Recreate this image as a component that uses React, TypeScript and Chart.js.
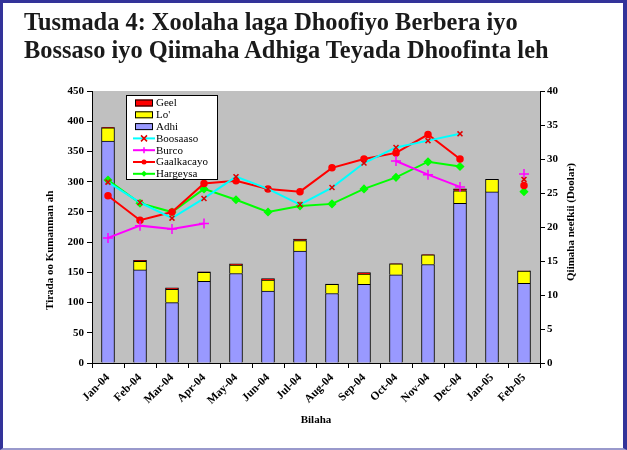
import React, { useEffect, useRef } from 'react';
import { Chart, registerables } from 'chart.js';

Chart.register(...registerables);

const months = ['Jan-04', 'Feb-04', 'Mar-04', 'Apr-04', 'May-04', 'Jun-04', 'Jul-04', 'Aug-04', 'Sep-04', 'Oct-04', 'Nov-04', 'Dec-04', 'Jan-05', 'Feb-05'];

// Thousands of head exported (left axis)
const adhi = [367, 154, 100, 135, 148, 119, 185, 115, 130, 146, 163, 264, 283, 132];
const lo = [22, 14, 22, 15, 14, 18, 17.5, 15, 17, 18, 16, 21, 21, 20];
const geel = [1, 2, 2.5, 1, 2, 2.5, 2.5, 0.5, 2.5, 0.5, 0.5, 3, 0, 0.5];

// Price of a goat (US dollars, right axis)
const boosaaso = [26.6, 23.6, 21.3, 24.2, 27.4, 25.6, 23.3, 25.8, 29.4, 31.7, 32.7, 33.7, null, 27.0];
const burco = [18.4, 20.2, 19.7, 20.5, null, null, null, null, null, 29.7, 27.7, 25.9, null, 27.8];
const gaalkacayo = [24.6, 21.0, 22.2, 26.4, 26.8, 25.6, 25.2, 28.7, 30.0, 30.9, 33.6, 30.0, null, 26.1];
const hargeysa = [26.9, 23.5, 22.2, 25.6, 24.0, 22.2, 23.1, 23.4, 25.6, 27.3, 29.6, 28.9, null, 25.2];

const leftMax = 450;
const leftStep = 50;
const rightMax = 40;
const rightStep = 5;

const titleLines = ['Tusmada 4: Xoolaha laga Dhoofiyo Berbera iyo', 'Bossaso iyo Qiimaha Adhiga Teyada Dhoofinta leh'];
const leftTitle = 'Tirada oo Kumanman ah';
const rightTitle = 'Qiimaha neefkii (Doolar)';
const xTitle = 'Bilaha';

const SERIF = "'Liberation Serif', 'Times New Roman', serif";

function drawMarker(ctx: CanvasRenderingContext2D, style: string, x: number, y: number, color: string, r: number) {
  ctx.save();
  ctx.strokeStyle = color;
  ctx.fillStyle = color;
  ctx.lineWidth = 1.5;
  ctx.beginPath();
  if (style === 'crossRot') {
    ctx.moveTo(x - r, y - r); ctx.lineTo(x + r, y + r);
    ctx.moveTo(x + r, y - r); ctx.lineTo(x - r, y + r);
    ctx.stroke();
  } else if (style === 'cross') {
    ctx.moveTo(x - r, y); ctx.lineTo(x + r, y);
    ctx.moveTo(x, y - r); ctx.lineTo(x, y + r);
    ctx.stroke();
  } else if (style === 'circle') {
    ctx.arc(x, y, r, 0, Math.PI * 2);
    ctx.fill();
  } else if (style === 'rectRot') {
    ctx.moveTo(x, y - r); ctx.lineTo(x + r, y); ctx.lineTo(x, y + r); ctx.lineTo(x - r, y);
    ctx.closePath();
    ctx.fill();
  }
  ctx.restore();
}

const plotBg = {
  id: 'plotBg',
  beforeDraw(chart: any) {
    const { ctx, chartArea: a } = chart;
    ctx.save();
    ctx.fillStyle = '#C0C0C0';
    ctx.fillRect(a.left, a.top, a.right - a.left, a.bottom - a.top);
    ctx.restore();
  },
};

const extras = {
  id: 'extras',
  afterDraw(chart: any) {
    const { ctx, chartArea: a } = chart;
    ctx.save();
    // axis titles
    ctx.fillStyle = '#000';
    ctx.font = `bold 11px ${SERIF}`;
    ctx.textBaseline = 'middle';
    ctx.save();
    ctx.translate(50, 310);
    ctx.rotate(-Math.PI / 2);
    ctx.textAlign = 'left';
    ctx.fillText(leftTitle, 0, 0);
    ctx.restore();
    ctx.save();
    ctx.translate(571, 222);
    ctx.rotate(-Math.PI / 2);
    ctx.textAlign = 'center';
    ctx.fillText(rightTitle, 0, 0);
    ctx.restore();
    ctx.textAlign = 'center';
    ctx.fillText(xTitle, (a.left + a.right) / 2, 420);

    // legend box
    const bx = a.left + 34;
    const by = a.top + 4;
    const bw = 92;
    const bh = 85;
    ctx.fillStyle = '#fff';
    ctx.fillRect(bx, by, bw, bh);
    ctx.strokeStyle = '#000';
    ctx.lineWidth = 1;
    ctx.strokeRect(bx + 0.5, by + 0.5, bw - 1, bh - 1);
    const items = chart.data.datasets.map((d: any) => d);
    const order = ['Geel', "Lo'", 'Adhi', 'Boosaaso', 'Burco', 'Gaalkacayo', 'Hargeysa'];
    ctx.font = `11px ${SERIF}`;
    ctx.textAlign = 'left';
    ctx.textBaseline = 'middle';
    order.forEach((name, i) => {
      const ds = items.find((d: any) => d.label === name);
      if (!ds) return;
      const cy = by + 8 + i * 11.8;
      if (ds.type === 'line') {
        ctx.strokeStyle = ds.borderColor;
        ctx.lineWidth = 2;
        ctx.beginPath();
        ctx.moveTo(bx + 7, cy);
        ctx.lineTo(bx + 29, cy);
        ctx.stroke();
        drawMarker(ctx, ds.pointStyle, bx + 18, cy, ds.pointBorderColor, ds.pointStyle === 'circle' ? 2.5 : 3);
      } else {
        ctx.fillStyle = ds.backgroundColor;
        ctx.fillRect(bx + 9, cy - 3.5, 18, 7);
        ctx.strokeStyle = '#000';
        ctx.lineWidth = 1;
        ctx.strokeRect(bx + 9.5, cy - 3, 17, 6);
      }
      ctx.fillStyle = '#000';
      ctx.fillText(name, bx + 30, cy + 0.5);
    });
    ctx.restore();
  },
};

export default function App() {
  const canvasRef = useRef<HTMLCanvasElement | null>(null);

  useEffect(() => {
    const canvas = canvasRef.current;
    if (!canvas) return;
    const tickFont = { family: SERIF, size: 11, weight: 'bold' as const };
    const xTickFont = { family: SERIF, size: 11.5, weight: 'bold' as const };
    const axisGrid = { drawOnChartArea: false, drawTicks: true, tickLength: 5, color: '#000', lineWidth: 1 };
    const barCommon = { type: 'bar' as const, yAxisID: 'y', borderColor: '#000', borderWidth: 1, barThickness: 13, order: 1, stack: 'exp' };
    const lineCommon = { type: 'line' as const, yAxisID: 'y1', borderWidth: 2, tension: 0, spanGaps: false, order: 0, pointBorderWidth: 1.5 };
    const chart = new Chart(canvas, {
      data: {
        labels: months,
        datasets: [
          { ...barCommon, label: 'Adhi', data: adhi, backgroundColor: '#9999FF' },
          { ...barCommon, label: "Lo'", data: lo, backgroundColor: '#FFFF00' },
          { ...barCommon, label: 'Geel', data: geel, backgroundColor: '#FF0000' },
          { ...lineCommon, label: 'Boosaaso', data: boosaaso, borderColor: '#00FFFF', pointStyle: 'crossRot', pointRadius: 3.5, pointBorderColor: '#E00000', pointBackgroundColor: '#E00000' },
          { ...lineCommon, label: 'Burco', data: burco, borderColor: '#FF00FF', pointStyle: 'cross', pointRadius: 5, pointBorderColor: '#FF00FF', pointBackgroundColor: '#FF00FF' },
          { ...lineCommon, label: 'Gaalkacayo', data: gaalkacayo, borderColor: '#FF0000', pointStyle: 'circle', pointRadius: 3, pointBorderColor: '#FF0000', pointBackgroundColor: '#FF0000' },
          { ...lineCommon, label: 'Hargeysa', data: hargeysa, borderColor: '#00FF00', pointStyle: 'rectRot', pointRadius: 3.5, pointBorderColor: '#00FF00', pointBackgroundColor: '#00FF00' },
        ] as any,
      },
      options: {
        responsive: false,
        animation: false,
        devicePixelRatio: 1,
        layout: { padding: { top: 91, left: 0, right: 0, bottom: 0 } },
        plugins: { legend: { display: false }, tooltip: { enabled: false }, title: { display: false } },
        scales: {
          x: {
            stacked: true,
            offset: true,
            grid: { ...axisGrid, offset: true },
            border: { color: '#000', width: 1 },
            ticks: { font: xTickFont, color: '#000', minRotation: 45, maxRotation: 45, autoSkip: false, padding: 3 },
            afterFit: (s: any) => { s.height = 87; },
          },
          y: {
            stacked: true,
            position: 'left',
            min: 0,
            max: leftMax,
            grid: axisGrid,
            border: { color: '#000', width: 1 },
            ticks: { stepSize: leftStep, font: tickFont, color: '#000', padding: 3 },
            afterFit: (s: any) => { s.width = 92; },
          },
          y1: {
            position: 'right',
            min: 0,
            max: rightMax,
            grid: axisGrid,
            border: { color: '#000', width: 1 },
            ticks: { stepSize: rightStep, font: tickFont, color: '#000', padding: 2 },
            afterFit: (s: any) => { s.width = 87; },
          },
        },
      } as any,
      plugins: [plotBg, extras],
    });
    return () => chart.destroy();
  }, []);

  return (
    <div style={{ position: 'fixed', left: 0, top: 0, width: 627, height: 450, background: '#fff' }}>
      <canvas ref={canvasRef} width={627} height={450} style={{ position: 'absolute', left: 0, top: 0, width: 627, height: 450 }} />
      <div
        style={{
          position: 'absolute',
          left: 24,
          top: 8,
          font: `bold 24.4px ${SERIF}`,
          lineHeight: '28px',
          color: '#1a1a1a',
          whiteSpace: 'nowrap',
        }}
      >
        {titleLines.map((t) => (
          <div key={t}>{t}</div>
        ))}
      </div>
      <div
        style={{
          position: 'absolute',
          left: 0,
          top: 0,
          width: 627,
          height: 450,
          boxSizing: 'border-box',
          borderLeft: '3px solid #333399',
          borderTop: '3px solid #333399',
          borderRight: '4px solid #333399',
          borderBottom: '2px solid #9999CC',
          pointerEvents: 'none',
        }}
      />
    </div>
  );
}
